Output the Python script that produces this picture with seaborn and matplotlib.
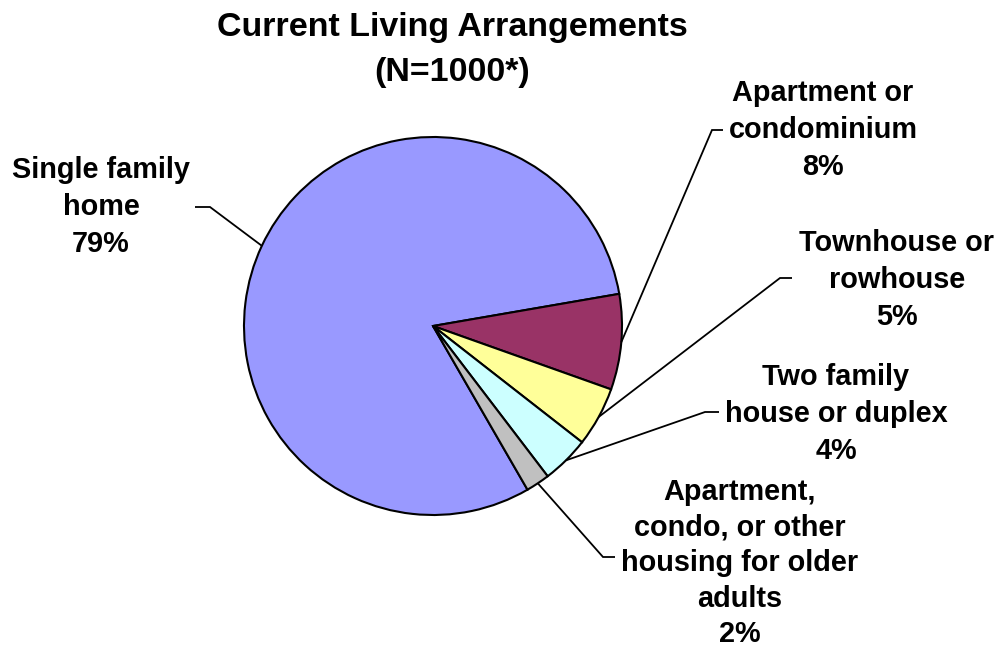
import numpy as np
import matplotlib
matplotlib.use("Agg")
import matplotlib.pyplot as plt
import seaborn as sns

# ---- data ----
categories = ["Single family\nhome", "Apartment or\ncondominium", "Townhouse or\nrowhouse",
              "Two family\nhouse or duplex", "Apartment,\ncondo, or other\nhousing for older\nadults"]
percents = [79, 8, 5, 4, 2]
colors_hex = ["#9999FF", "#993366", "#FFFF99", "#CCFFFF", "#C0C0C0"]
title_text = "Current Living Arrangements\n(N=1000*)"

sns.set_style("white")
plt.rcParams['font.family'] = ['Liberation Sans', 'DejaVu Sans']
plt.rcParams['text.color'] = 'black'
palette = sns.color_palette(colors_hex)

W, H = 1004, 648
fig = plt.figure(figsize=(W / 100, H / 100), dpi=100)
ax = fig.add_axes([0, 0, 1, 1])

cx, cy, R = 433, H - 326, 189
wedges, _ = ax.pie(percents, colors=palette, startangle=300, counterclock=False,
                   center=(cx, cy), radius=R,
                   wedgeprops=dict(edgecolor="black", linewidth=1.5))
ax.set_xlim(0, W)
ax.set_ylim(0, H)
ax.set_aspect('equal')
ax.axis('off')

# label layout (pixel coordinates from top-left)
label_pos = [(101, 207), (823, 130), (897, 280), (836, 414), (740, 563)]
label_ls = [1.42, 1.42, 1.42, 1.40, 1.35]
elbows = [((210, 207), (195, 207)),
          ((712, 130), (723, 130)),
          ((780, 278), (792, 278)),
          ((705, 412), (719, 412)),
          ((603, 557), (615, 557))]

for w, cat, pct, (lx, ly), ls, (e1, e2) in zip(wedges, categories, percents, label_pos, label_ls, elbows):
    ang = np.deg2rad((w.theta1 + w.theta2) / 2)
    px, py = cx + R * np.cos(ang), cy + R * np.sin(ang)
    ax.plot([px, e1[0], e2[0]], [py, H - e1[1], H - e2[1]], color="black", lw=1.3,
            solid_capstyle="butt", solid_joinstyle="miter")
    ax.text(lx, H - ly, f"{cat}\n{pct}%", ha="center", va="center", multialignment="center",
            fontsize=20.8, fontweight="bold", linespacing=ls, color="black")

ax.text(452, H - 50, title_text, ha="center", va="center", multialignment="center",
        fontsize=24.5, fontweight="bold", linespacing=1.55, color="black")

fig.savefig("out.png", dpi=100)
